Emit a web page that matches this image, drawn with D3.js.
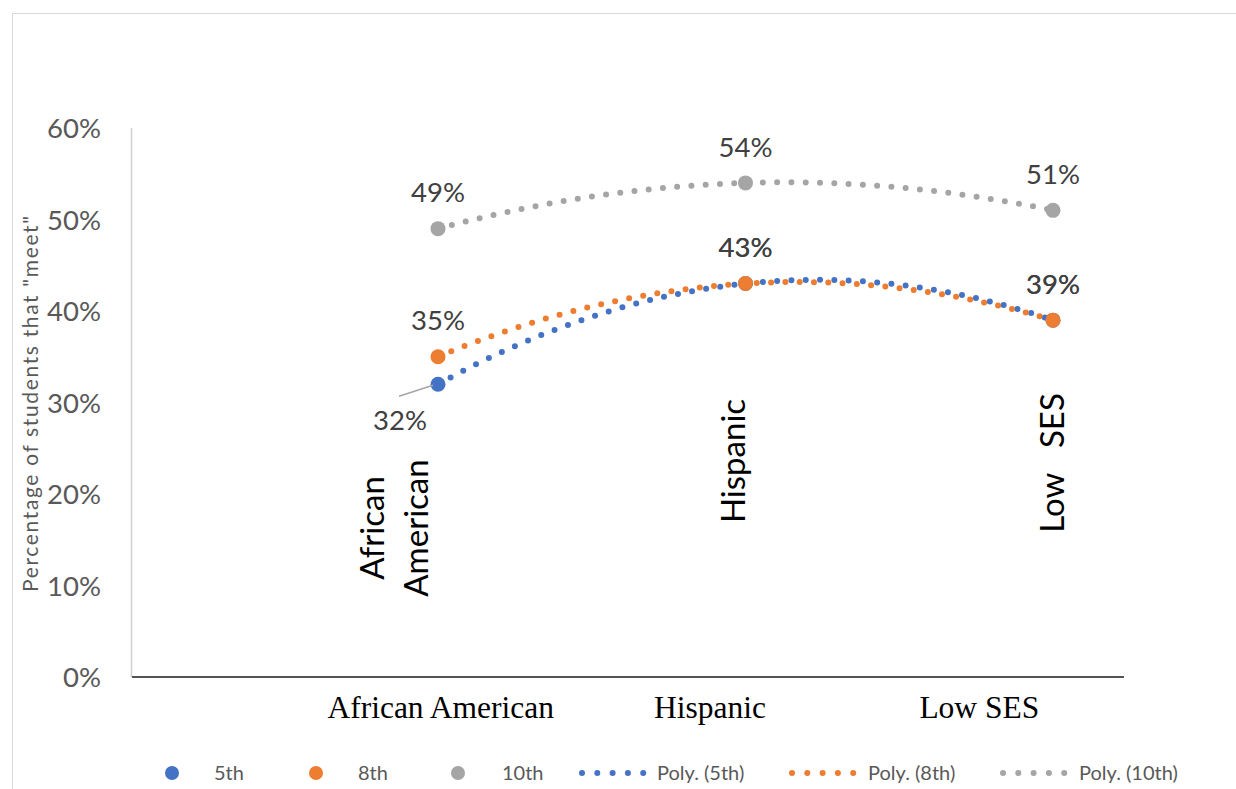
<!DOCTYPE html>
<html>
<head>
<meta charset="utf-8">
<script src="https://cdn.jsdelivr.net/npm/d3@7"></script>
<style>
  html, body { margin: 0; padding: 0; background: #fff; }
  svg { display: block; }
</style>
</head>
<body>
<svg id="chart" width="1236" height="789"></svg>
<script>
// Categories and series values (percent of students that "meet")
const categories = ["African American", "Hispanic", "Low SES"];
const axisLabels = ["African American", "Hispanic", "Low SES"];
const insideLabels = [["African", "American"], ["Hispanic"], ["Low   SES"]];
const grades = ["5th", "8th", "10th"];
const values5th = [32, 43, 39];
const values8th = [35, 43, 39];
const values10th = [49, 54, 51];
const yTicks = [0, 10, 20, 30, 40, 50, 60];
const colors = ["#4472C4", "#ED7D31", "#A5A5A5"];

const series = [
  { name: "5th", values: values5th, color: colors[0] },
  { name: "8th", values: values8th, color: colors[1] },
  { name: "10th", values: values10th, color: colors[2] }
];

const svg = d3.select("#chart");
const calibri = "Lato, 'Open Sans', sans-serif";

// Outer chart frame
svg.append("rect")
  .attr("x", 12.5).attr("y", 13.5)
  .attr("width", 1240).attr("height", 800)
  .attr("fill", "none").attr("stroke", "#d9d9d9").attr("stroke-width", 1);

// Scales
const x = d3.scalePoint().domain(categories).range([438, 1053]);
const xAxisBand = d3.scaleBand().domain(axisLabels).range([306, 1114]).padding(0);
const y = d3.scaleLinear().domain([0, 60]).range([677, 128]);

// Vertical value axis line
svg.append("line")
  .attr("x1", 131.5).attr("x2", 131.5)
  .attr("y1", y(60)).attr("y2", y(0))
  .attr("stroke", "#d0d0d0").attr("stroke-width", 1.5);

// Y tick labels
const yAxis = d3.axisLeft(y).tickValues(yTicks).tickFormat(d => d + "%").tickSize(0).tickPadding(0);
const yG = svg.append("g").attr("transform", "translate(101,0)").call(yAxis);
yG.select(".domain").remove();
yG.selectAll("text")
  .attr("font-family", calibri).attr("font-size", 27.5)
  .attr("fill", "#595959").attr("dy", "0.35em");

// Y axis title
svg.append("text")
  .attr("transform", `translate(38,404) rotate(-90)`)
  .attr("text-anchor", "middle")
  .attr("font-family", calibri).attr("font-size", 21)
  .attr("fill", "#595959")
  .attr("textLength", 376)
  .attr("lengthAdjust", "spacing")
  .text('Percentage of students that "meet"');

// Horizontal category axis line
svg.append("line")
  .attr("x1", 132).attr("x2", 1124)
  .attr("y1", 677).attr("y2", 677)
  .attr("stroke", "#1a1a1a").attr("stroke-width", 1.6);

// Category axis labels (serif)
const xAxis = d3.axisBottom(xAxisBand).tickSize(0).tickPadding(0);
const xG = svg.append("g").attr("transform", "translate(0,696)").call(xAxis);
xG.select(".domain").remove();
xG.selectAll("text")
  .attr("font-family", "'Liberation Serif', 'Times New Roman', serif")
  .attr("font-size", 31.5).attr("fill", "#000").attr("dy", "0.71em");

// Rotated category captions inside the plot
const insidePos = {
  "African American": { dx: -66, y: 528 },
  "Hispanic": { dx: -12, y: 461 },
  "Low SES": { dx: -1, y: 463 }
};
categories.forEach((c, i) => {
  const lines = insideLabels[i];
  const p = insidePos[c];
  const g = svg.append("g")
    .attr("transform", `translate(${x(c) + p.dx},${p.y}) rotate(-90)`);
  lines.forEach((ln, j) => {
    g.append("text")
      .attr("x", 0).attr("y", j * 44)
      .attr("dy", "0.35em")
      .attr("text-anchor", "middle")
      .attr("font-family", calibri).attr("font-size", 33)
      .attr("fill", "#000")
      .style("white-space", "pre")
      .text(ln);
  });
});

// Polynomial (order 2) trendline through each series
function quadFit(vals) {
  const [a, b, c] = vals; // at t = 0, 1, 2
  return t => a * (t - 1) * (t - 2) / 2 - b * t * (t - 2) + c * t * (t - 1) / 2;
}
const step = x.step();
const trendLine = d3.line().x(d => d[0]).y(d => d[1]);

const plotOrder = [0, 1, 2];
plotOrder.forEach(k => {
  const s = series[k];
  const f = quadFit(s.values);
  const pts = d3.range(0, 2.0001, 0.01).map(t => [x(categories[0]) + t * step, y(f(t))]);
  svg.append("path")
    .attr("d", trendLine(pts))
    .attr("fill", "none")
    .attr("stroke", s.color)
    .attr("stroke-width", 6)
    .attr("stroke-linecap", "round")
    .attr("stroke-dasharray", "0 14.3");
});

// Markers
plotOrder.forEach(k => {
  const s = series[k];
  svg.append("g").selectAll("circle")
    .data(s.values)
    .join("circle")
    .attr("cx", (d, i) => x(categories[i]))
    .attr("cy", d => y(d))
    .attr("r", 7.5)
    .attr("fill", s.color);
});

// Data labels
const labelFont = { family: calibri, size: 27.5, color: "#404040" };
series.forEach((s, k) => {
  s.values.forEach((v, i) => {
    const cx = x(categories[i]);
    const cy = y(v);
    let lx = cx, ly = cy - 36;
    if (k === 0 && i === 0) {
      // 5th grade, African American: label placed below-left with a leader line
      lx = cx - 38; ly = cy + 36;
      svg.append("line")
        .attr("x1", cx - 39).attr("y1", cy + 12)
        .attr("x2", cx - 5).attr("y2", cy + 1)
        .attr("stroke", "#a6a6a6").attr("stroke-width", 1.5);
    }
    svg.append("text")
      .attr("x", lx).attr("y", ly)
      .attr("dy", "0.35em")
      .attr("text-anchor", "middle")
      .attr("font-family", labelFont.family)
      .attr("font-size", labelFont.size)
      .attr("fill", labelFont.color)
      .text(v + "%");
  });
});

// Legend
const legendY = 773;
const legendItems = [
  { type: "marker", color: colors[0], label: grades[0], mx: 172, tx: 214 },
  { type: "marker", color: colors[1], label: grades[1], mx: 316, tx: 358 },
  { type: "marker", color: colors[2], label: grades[2], mx: 458, tx: 502 },
  { type: "line", color: colors[0], label: "Poly. (" + grades[0] + ")", mx: 582, tx: 657 },
  { type: "line", color: colors[1], label: "Poly. (" + grades[1] + ")", mx: 792, tx: 868 },
  { type: "line", color: colors[2], label: "Poly. (" + grades[2] + ")", mx: 1003, tx: 1079 }
];
const lg = svg.append("g");
legendItems.forEach(it => {
  if (it.type === "marker") {
    lg.append("circle").attr("cx", it.mx).attr("cy", legendY).attr("r", 7).attr("fill", it.color);
  } else {
    lg.append("g").selectAll("circle")
      .data(d3.range(5))
      .join("circle")
      .attr("cx", j => it.mx + j * 15.3)
      .attr("cy", legendY)
      .attr("r", 3)
      .attr("fill", it.color);
  }
  lg.append("text")
    .attr("x", it.tx).attr("y", legendY)
    .attr("dy", "0.35em")
    .attr("font-family", calibri).attr("font-size", 20)
    .attr("fill", "#595959")
    .text(it.label);
});
</script>
</body>
</html>
